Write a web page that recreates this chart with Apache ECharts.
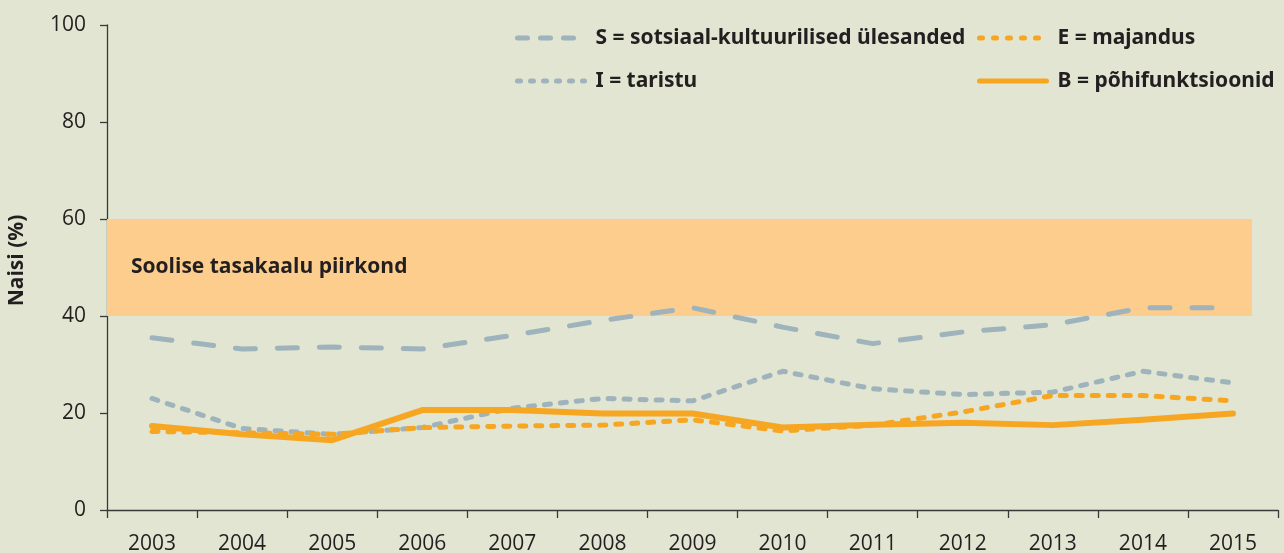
<!DOCTYPE html>
<html>
<head>
<meta charset="utf-8">
<script src="https://cdn.jsdelivr.net/npm/echarts@6/dist/echarts.min.js"></script>
<style>
html,body{margin:0;padding:0;background:#e1e5d1;}
#c{width:1284px;height:553px;}
</style>
</head>
<body>
<div id="c"></div>
<script>
var years = ['2003','2004','2005','2006','2007','2008','2009','2010','2011','2012','2013','2014','2015'];
var yTicks = [0, 20, 40, 60, 80, 100];
var nameS = 'S = sotsiaal-kultuurilised ülesanded';
var nameE = 'E = majandus';
var nameI = 'I = taristu';
var nameB = 'B = põhifunktsioonid';
var seriesS = [35.5, 33.2, 33.6, 33.2, 36.0, 39.1, 41.7, 37.7, 34.3, 36.7, 38.2, 41.7, 41.7];
var seriesI = [23.0, 16.8, 15.6, 17.0, 21.0, 23.0, 22.5, 28.6, 25.0, 23.8, 24.3, 28.6, 26.2];
var seriesE = [16.2, 15.9, 15.6, 17.0, 17.3, 17.5, 18.6, 16.3, 17.5, 20.2, 23.6, 23.6, 22.5];
var seriesB = [17.3, 15.6, 14.4, 20.6, 20.6, 19.9, 19.9, 17.0, 17.6, 18.0, 17.5, 18.6, 19.9];
var bandLow = 40, bandHigh = 60;
var bandLabel = 'Soolise tasakaalu piirkond';
var yName = 'Naisi (%)';

var GREY = '#9eb3bb', ORANGE = '#f7a621', TXT = '#231f20';
var chart = echarts.init(document.getElementById('c'), null, {renderer: 'canvas'});

function legendAt(name, left, top, ls) {
  return {
    data: [name], left: left, top: top, padding: 0,
    itemWidth: 67, itemHeight: 22,
    lineStyle: ls,
    itemStyle: {opacity: 0},
    textStyle: {fontFamily: '"Noto Sans", sans-serif', fontWeight: 'bold', fontSize: 21, color: TXT, padding: [0, 0, 0, 6], lineHeight: 22},
    selectedMode: false
  };
}

var option = {
  backgroundColor: '#e1e5d1',
  animation: false,
  grid: {left: 107, right: 6, top: 25, bottom: 43, containLabel: false, outerBoundsMode: 'none'},
  legend: [
    legendAt(nameS, 515, 27, {type: [10, 13], width: 5, cap: 'round', color: GREY}),
    legendAt(nameE, 977, 27, {type: [3, 11], width: 5, cap: 'round', color: ORANGE}),
    legendAt(nameI, 515, 70, {type: [3, 10], width: 5, cap: 'round', color: GREY}),
    legendAt(nameB, 977, 70, {type: 'solid', width: 5, cap: 'round', color: ORANGE})
  ],
  xAxis: [{
    type: 'category', data: years, boundaryGap: true,
    axisLine: {lineStyle: {color: '#3a3a3a', width: 1.3}},
    axisTick: {show: true, length: 8, alignWithLabel: false, lineStyle: {color: '#3a3a3a', width: 1.3}},
    axisLabel: {margin: 24, fontFamily: '"Open Sans", sans-serif', fontSize: 21, color: TXT, interval: 0},
    splitLine: {show: false}
  }, {
    type: 'value', min: 0, max: years.length, show: false
  }],
  yAxis: {
    type: 'value', min: yTicks[0], max: yTicks[yTicks.length - 1], interval: 20,
    name: yName, nameLocation: 'middle', nameGap: 79,
    nameTextStyle: {fontFamily: '"Open Sans", sans-serif', fontWeight: 'bold', fontSize: 21, color: TXT, padding: [0, 0, 0, 14]},
    axisLine: {show: true, lineStyle: {color: '#3a3a3a', width: 1.3}},
    axisTick: {show: true, length: 7, lineStyle: {color: '#3a3a3a', width: 1.3}},
    axisLabel: {margin: 21, fontFamily: '"Open Sans", sans-serif', fontSize: 21, color: TXT},
    splitLine: {show: false}
  },
  series: [
    {
      name: 'band', type: 'line', xAxisIndex: 1, yAxisIndex: 0, data: [], z: 1,
      silent: true,
      markArea: {
        silent: true,
        itemStyle: {color: '#fccd8c', opacity: 1},
        label: {show: true, position: 'insideLeft', distance: 24, formatter: bandLabel,
          fontFamily: '"Open Sans", sans-serif', fontWeight: 'bold', fontSize: 21, color: TXT},
        data: [[{xAxis: 0, yAxis: bandLow}, {xAxis: 12.71, yAxis: bandHigh}]]
      }
    },
    {name: nameS, type: 'line', data: seriesS, symbol: 'none', z: 3,
      lineStyle: {color: GREY, width: 5, type: [20, 22], cap: 'round', join: 'round'}, itemStyle: {color: GREY}},
    {name: nameI, type: 'line', data: seriesI, symbol: 'none', z: 3,
      lineStyle: {color: GREY, width: 5, type: [6, 10], cap: 'round', join: 'round'}, itemStyle: {color: GREY}},
    {name: nameE, type: 'line', data: seriesE, symbol: 'none', z: 4,
      lineStyle: {color: ORANGE, width: 5, type: [6, 10], cap: 'round', join: 'round'}, itemStyle: {color: ORANGE}},
    {name: nameB, type: 'line', data: seriesB, symbol: 'none', z: 4,
      lineStyle: {color: ORANGE, width: 6, type: 'solid', cap: 'round', join: 'round'}, itemStyle: {color: ORANGE}}
  ]
};
chart.setOption(option);
</script>
</body>
</html>
